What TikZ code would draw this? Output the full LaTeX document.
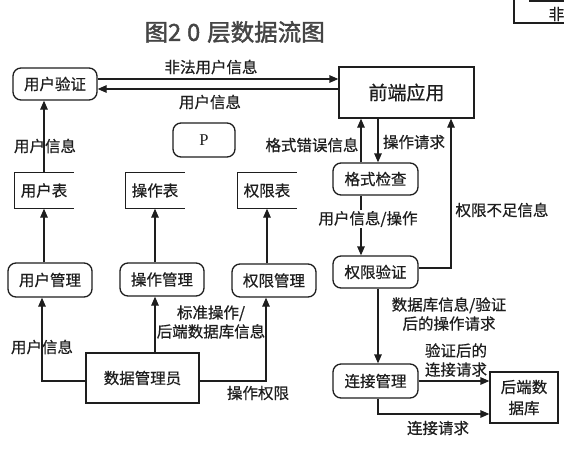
\documentclass[tikz,border=0pt]{standalone}
\usepackage{fontspec}
\newfontfamily\cjk[FakeBold=0.6]{Noto Sans CJK SC}
\newfontfamily\cjkbold[FakeBold=1.8]{Noto Sans CJK SC}
\newfontfamily\pserif{Liberation Serif}
\usetikzlibrary{arrows.meta}
\definecolor{linec}{HTML}{1E1E1E}
\definecolor{titlegray}{HTML}{454545}
\begin{document}
\begin{tikzpicture}[x=1pt,y=-1pt,
  line width=1.3pt, draw=linec,
  every node/.style={font=\cjk\fontsize{15.5}{19}\selectfont, inner sep=0pt, text=linec},
  proc/.style={draw=linec, rounded corners=8pt, minimum width=85, minimum height=33},
  ent/.style={draw=linec, minimum width=113, minimum height=50},
  tbl/.style={minimum width=58, minimum height=35},
  lbl/.style={align=center},
  arr/.style={draw=linec, -{Triangle[length=9pt,width=7.5pt]}},
  ln/.style={draw=linec}
]
\useasboundingbox (0,0) rectangle (564,453);
\clip (0,0) rectangle (564,453);
\fill[white] (0,0) rectangle (564,453);

% partial box at top right
\draw[ln] (514,-3) -- (514,23) -- (566,23);
\draw[ln] (529,1) -- (566,1);
\node[anchor=west] (fei) at (548,14) {非};

% title
\node[anchor=west, font=\cjkbold\fontsize{23.5}{28}\selectfont, text=titlegray] (title) at (144,32) {图2\hspace{6pt}0\hspace{7pt}层数据流图};

% nodes
\node[proc, minimum width=84, minimum height=32] (yhyz) at (55,84) {用户验证};
\node[draw=linec, minimum width=135, minimum height=51, font=\cjk\fontsize{19}{22}\selectfont] (qd) at (406.5,92.5) {前端应用};
\node[proc, minimum width=62, minimum height=34, font=\pserif\fontsize{16.5}{18}\selectfont] (p) at (204,140) {P};
\node[proc, minimum height=32] (gs) at (375.5,179) {格式检查};
\node[proc, minimum height=32] (qxyz) at (375.5,272) {权限验证};
\node[proc, minimum height=34] (ljgl) at (375.5,381) {连接管理};
\node[draw=linec, minimum width=68, minimum height=51, align=center, font=\cjk\fontsize{15.5}{21}\selectfont] (hd) at (524,397.5) {后端数\\据库};

\node[tbl] (yhb) at (44,190.5) {用户表};
\node[tbl] (czb) at (155,190.5) {操作表};
\node[tbl] (qxb) at (267,190.5) {权限表};
\foreach \t in {yhb,czb,qxb}{
  \draw[ln] (\t.north east) -- (\t.north west) -- (\t.south west) -- (\t.south east);
}

\node[proc, minimum width=84, minimum height=34] (yhgl) at (50,280) {用户管理};
\node[proc, minimum width=84, minimum height=33] (czgl) at (162,279.5) {操作管理};
\node[proc, minimum width=84, minimum height=33] (qxgl) at (274,280.5) {权限管理};
\node[ent] (sj) at (142.5,378) {数据管理员};

% top arrows between 用户验证 and 前端应用
\coordinate (a1) at ([yshift=5pt]yhyz.east);
\coordinate (a2) at ([yshift=-5pt]yhyz.east);
\draw[arr] (a1) -- (a1 -| qd.west);
\draw[arr] (a2 -| qd.west) -- (a2);
\node[lbl] (l1) at (211,67) {非法用户信息};
\node[lbl] (l2) at (210,102) {用户信息};

% left column
\draw[arr] (yhb.north) -- (yhb.north |- yhyz.south);
\node[lbl] (l3) at (45,146) {用户信息};
\draw[arr] (yhgl.north -| yhb.south) -- (yhb.south);
\draw[arr] (czgl.north -| czb.south) -- (czb.south);
\draw[arr] (qxgl.north -| qxb.south) -- (qxb.south);

% 数据管理员 flows
\draw[arr] ([yshift=-3pt]sj.west) -| ([xshift=-8pt]yhgl.south);
\node[lbl] (l4) at (42,347) {用户信息};
\draw[arr] (sj.north -| czb.south) -- (czgl.south -| czb.south);
\node[lbl] (l5) at (211,322) {标准操作/\\后端数据库信息};
\draw[arr] ([yshift=-3pt]sj.east) -| ([xshift=-8pt]qxgl.south);
\node[lbl] (l6) at (258,393) {操作权限};

% right column
\coordinate (g1) at ([xshift=-14.5pt]gs.north);
\coordinate (g2) at ([xshift=2.5pt]gs.north);
\draw[arr] (g1) -- (g1 |- qd.south);
\draw[arr] (g2 |- qd.south) -- (g2);
\node[lbl] (l7) at (312,145) {格式错误信息};
\node[lbl] (l8) at (414,142) {操作请求};

\draw[arr] ([xshift=-14.5pt]gs.south) -- ([xshift=-14.5pt]qxyz.north);
\node[lbl, fill=white, inner sep=1pt] (l9) at (368,219) {用户信息/操作};

\draw[arr] ([yshift=4pt]qxyz.east) -| ([xshift=44.5pt]qd.south);
\node[lbl] (l10) at (502,210) {权限不足信息};

\draw[arr] ([xshift=2.5pt]qxyz.south) -- ([xshift=2.5pt]ljgl.north);
\node[lbl] (l11) at (449,314) {数据库信息/验证\\后的操作请求};

\draw[arr] (ljgl.east) -- (ljgl.east -| hd.west);
\node[lbl] (l12) at (456,360) {验证后的\\连接请求};
\draw[arr] ([xshift=2.5pt]ljgl.south) |- ([yshift=-16.5pt]hd.west);
\node[lbl] (l13) at (438,428) {连接请求};
\end{tikzpicture}
\end{document}
